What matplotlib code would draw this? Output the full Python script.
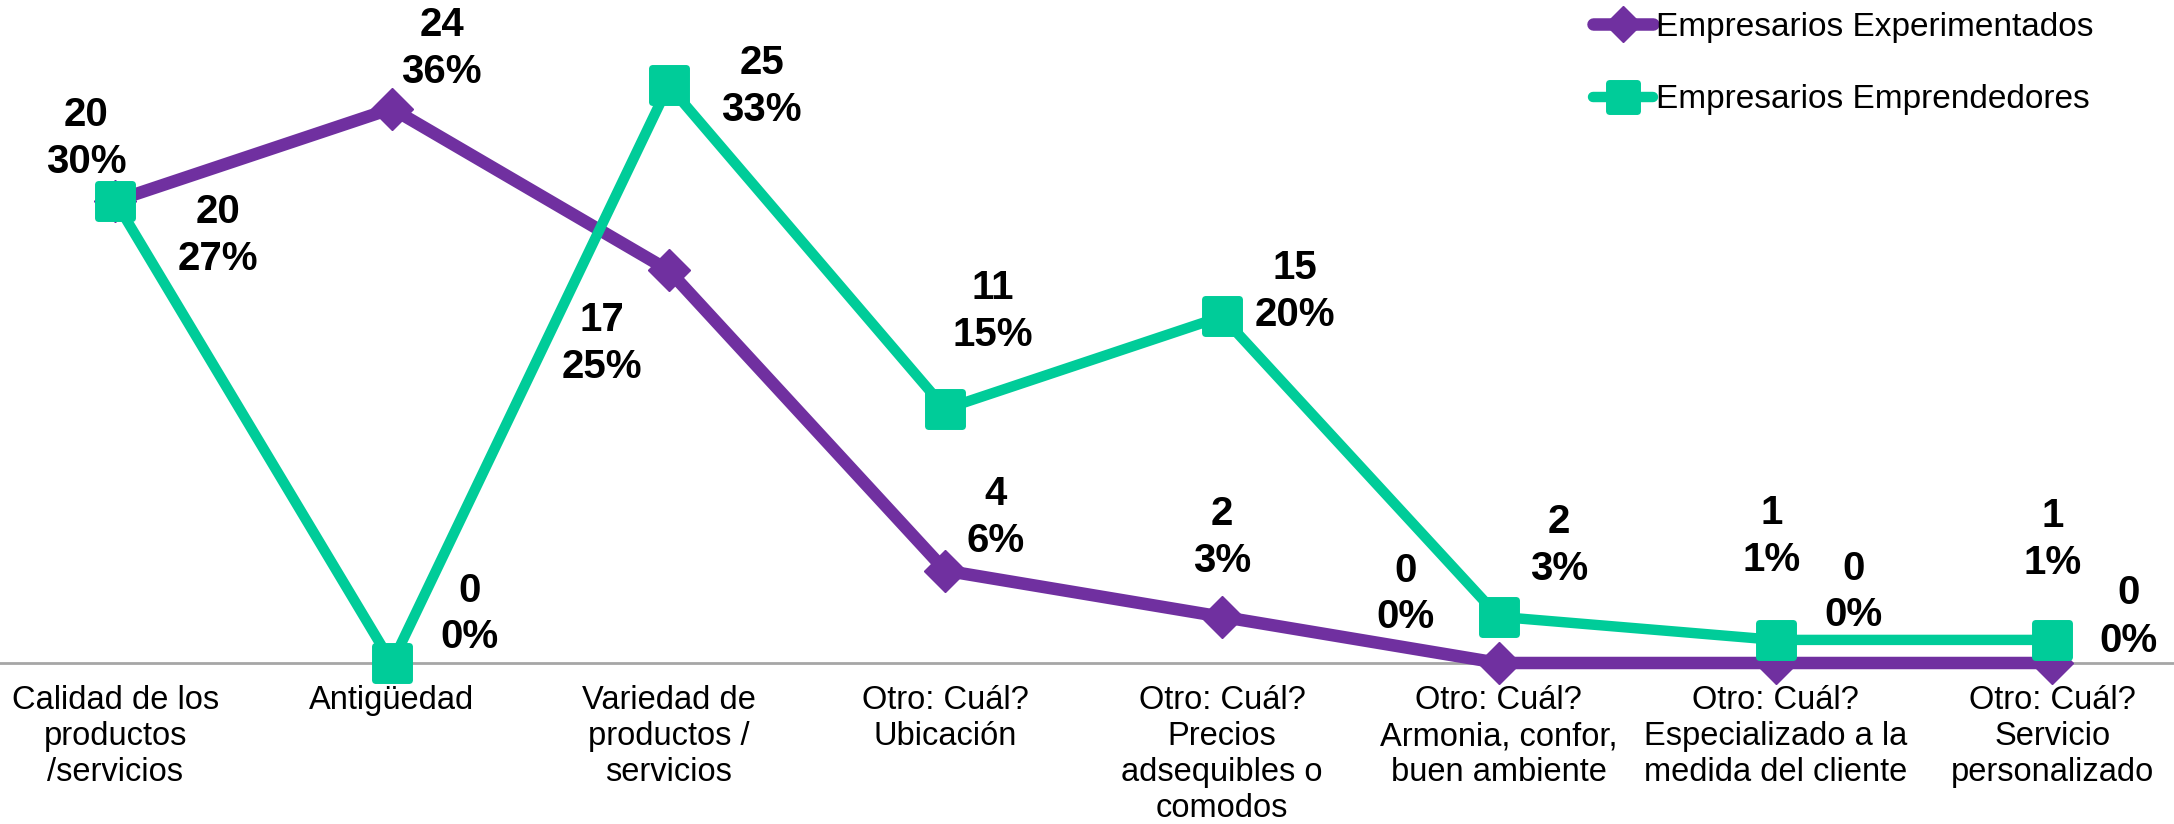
import matplotlib
matplotlib.use('Agg')
from matplotlib import pyplot as plt
from matplotlib.markers import MarkerStyle

categories = [
    'Calidad de los\nproductos\n/servicios',
    'Antigüedad',
    'Variedad de\nproductos /\nservicios',
    'Otro: Cuál?\nUbicación',
    'Otro: Cuál?\nPrecios\nadsequibles o\ncomodos',
    'Otro: Cuál?\nArmonia, confor,\nbuen ambiente',
    'Otro: Cuál?\nEspecializado a la\nmedida del cliente',
    'Otro: Cuál?\nServicio\npersonalizado',
]
experimentados = [20, 24, 17, 4, 2, 0, 0, 0]
experimentados_pct = ['30%', '36%', '25%', '6%', '3%', '0%', '0%', '0%']
emprendedores = [20, 0, 25, 11, 15, 2, 1, 1]
emprendedores_pct = ['27%', '0%', '33%', '15%', '20%', '3%', '1%', '1%']

# label offsets in pixels (dx, dy), dy up positive
exp_offsets = [(-29, 62), (50, 60), (-67, -73), (50, 53), (0, 79), (-93, 69), (78, 71), (76, 46)]
emp_offsets = [(103, -35), (78, 49), (93, -1), (47, 97), (73, 25), (60, 71), (-4, 103), (0, 100)]

PURPLE = '#7030A0'
GREEN = '#00CC99'

plt.rcParams['font.family'] = ['Liberation Sans', 'DejaVu Sans']


def main():
    fig = plt.figure(figsize=(21.74, 8.24), dpi=100)
    ax = fig.add_axes([0, 161 / 824, 1, 663 / 824])
    x = list(range(len(categories)))

    ax.plot(x, experimentados, color=PURPLE, lw=9, marker='D', ms=21,
            mec=PURPLE, mfc=PURPLE, clip_on=False, zorder=3,
            label='Empresarios Experimentados', solid_capstyle='round')
    sq = MarkerStyle('s', joinstyle='round')
    ax.plot(x, emprendedores, color=GREEN, lw=7.5, marker=sq, ms=24, mew=5,
            mec=GREEN, mfc=GREEN, clip_on=False, zorder=4,
            label='Empresarios Emprendedores', solid_capstyle='round')

    for i in x:
        ax.annotate('%d\n%s' % (experimentados[i], experimentados_pct[i]),
                    (i, experimentados[i]), xytext=exp_offsets[i],
                    textcoords='offset pixels', ha='center', va='center',
                    fontsize=29, fontweight='bold', linespacing=1.3,
                    annotation_clip=False, zorder=5)
        ax.annotate('%d\n%s' % (emprendedores[i], emprendedores_pct[i]),
                    (i, emprendedores[i]), xytext=emp_offsets[i],
                    textcoords='offset pixels', ha='center', va='center',
                    fontsize=29, fontweight='bold', linespacing=1.3,
                    annotation_clip=False, zorder=5)

    ax.set_xlim(-0.416, 7.44)
    ax.set_ylim(0, 28.7)
    ax.set_xticks(x)
    ax.set_xticklabels(categories, fontsize=23.5, linespacing=1.2)
    ax.tick_params(axis='x', length=0, pad=16)
    ax.set_yticks([])
    for s in ['top', 'left', 'right']:
        ax.spines[s].set_visible(False)
    ax.spines['bottom'].set_color('#A6A6A6')
    ax.spines['bottom'].set_linewidth(2)
    ax.spines['bottom'].set_zorder(1)

    fig.legend(loc='upper left', bbox_to_anchor=(0.731, 0.99), frameon=False,
               fontsize=24, handlelength=1.8, handletextpad=0.1,
               labelspacing=1.25, borderpad=0.1, borderaxespad=0,
               markerscale=0.85)

    fig.savefig('out.png', dpi=100)


if __name__ == '__main__':
    main()
